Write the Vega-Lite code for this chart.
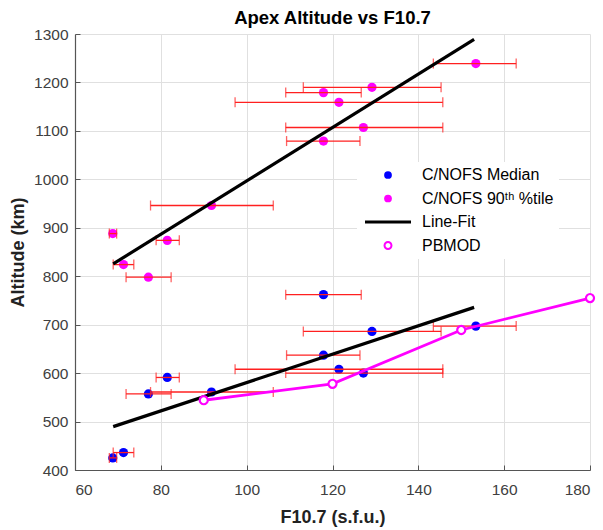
{
  "$schema": "https://vega.github.io/schema/vega-lite/v6.json",
  "autosize": {"type": "none"},
  "padding": {"left": 75, "top": 34, "right": 13, "bottom": 60},
  "width": 515,
  "height": 436,
  "background": "white",
  "title": {"text": "Apex Altitude vs F10.7", "fontSize": 18.5, "fontWeight": "bold", "font": "Liberation Sans", "color": "#000000", "offset": 0, "anchor": "middle"},
  "config": {
    "view": {"stroke": null},
    "font": "Liberation Sans",
    "axis": {
      "grid": true, "gridColor": "#e0e0e0", "gridWidth": 1,
      "domainColor": "#555555", "domainWidth": 1.2,
      "tickColor": "#555555", "tickSize": -5,
      "labelFont": "Liberation Sans", "labelFontSize": 15.5, "labelColor": "#404040",
      "titleFont": "Liberation Sans", "titleFontSize": 18, "titleFontWeight": "bold", "titleColor": "#222222"
    }
  },
  "datasets": {
    "obs": [
      {"f": 68.8, "lo": 68.0, "hi": 69.7, "med": 425, "p90": 888},
      {"f": 71.3, "lo": 68.9, "hi": 73.7, "med": 436, "p90": 824},
      {"f": 77.1, "lo": 71.9, "hi": 82.4, "med": 557, "p90": 798},
      {"f": 81.5, "lo": 78.9, "hi": 84.3, "med": 591, "p90": 874},
      {"f": 91.8, "lo": 77.6, "hi": 106.2, "med": 561, "p90": 946},
      {"f": 117.9, "lo": 109.1, "hi": 126.7, "med": 762, "p90": 1179},
      {"f": 117.9, "lo": 109.3, "hi": 126.4, "med": 637, "p90": 1079},
      {"f": 121.5, "lo": 97.3, "hi": 145.7, "med": 608, "p90": 1159},
      {"f": 127.2, "lo": 109.1, "hi": 145.7, "med": 600, "p90": 1107},
      {"f": 129.2, "lo": 113.2, "hi": 145.3, "med": 686, "p90": 1190},
      {"f": 153.4, "lo": 143.5, "hi": 162.8, "med": 697, "p90": 1239}
    ],
    "fit": [
      {"grp": "p90", "f": 68.9, "alt": 825.5},
      {"grp": "p90", "f": 153.0, "alt": 1289},
      {"grp": "med", "f": 68.9, "alt": 489.5},
      {"grp": "med", "f": 153.0, "alt": 735.7}
    ],
    "pbmod": [
      {"f": 90, "alt": 544},
      {"f": 120, "alt": 578},
      {"f": 150, "alt": 689},
      {"f": 180, "alt": 755}
    ]
  },
  "encoding": {
    "x": {"type": "quantitative", "scale": {"domain": [60, 180], "nice": false, "zero": false},
      "axis": {"title": "F10.7 (s.f.u.)", "values": [60, 80, 100, 120, 140, 160, 180], "labelPadding": 17, "titlePadding": 11}},
    "y": {"type": "quantitative", "scale": {"domain": [400, 1300], "nice": false, "zero": false},
      "axis": {"title": "Altitude (km)", "format": "d", "values": [400, 500, 600, 700, 800, 900, 1000, 1100, 1200, 1300], "labelPadding": 12, "titlePadding": 6}},
    "color": {"type": "nominal",
      "scale": {"domain": ["C/NOFS Median", "C/NOFS 90ᵗʰ %tile", "Line-Fit", "PBMOD"], "range": ["#0000ff", "#ff00ff", "#000000", "#ff00ff"]},
      "legend": {
        "title": null, "orient": "none", "legendX": 282, "legendY": 128,
        "fillColor": "white", "strokeColor": null, "padding": 5,
        "labelFont": "Liberation Sans", "labelFontSize": 16, "labelColor": "#000000",
        "symbolSize": 100, "symbolOffset": 18, "labelOffset": 26, "rowPadding": 7.5,
        "encode": {
          "symbols": {"update": {
            "shape": {"signal": "datum.value === 'Line-Fit' ? 'stroke' : 'circle'"},
            "size": {"signal": "datum.value === 'Line-Fit' ? 2116 : (datum.value === 'PBMOD' ? 48 : 60)"},
            "fill": {"signal": "datum.value === 'PBMOD' ? 'white' : scale('color', datum.value)"},
            "fillOpacity": {"signal": "datum.value === 'PBMOD' ? 0 : 1"},
            "stroke": {"signal": "scale('color', datum.value)"},
            "strokeWidth": {"signal": "datum.value === 'Line-Fit' ? 3 : (datum.value === 'PBMOD' ? 2 : 0)"},
            "opacity": {"value": 1}
          }}
        }
      }
    }
  },
  "layer": [
    {
      "data": {"name": "obs"},
      "mark": {"type": "circle", "size": 85, "opacity": 1},
      "encoding": {
        "x": {"field": "f", "type": "quantitative"},
        "y": {"field": "med", "type": "quantitative"},
        "color": {"datum": "C/NOFS Median", "type": "nominal"}
      }
    },
    {
      "data": {"name": "obs"},
      "mark": {"type": "circle", "size": 85, "opacity": 1},
      "encoding": {
        "x": {"field": "f", "type": "quantitative"},
        "y": {"field": "p90", "type": "quantitative"},
        "color": {"datum": "C/NOFS 90ᵗʰ %tile", "type": "nominal"}
      }
    },
    {
      "data": {"name": "obs"},
      "transform": [{"fold": ["med", "p90"], "as": ["stat", "alt"]}],
      "layer": [
        {"mark": {"type": "rule", "color": "#ff2020", "strokeWidth": 1.3},
          "encoding": {"x": {"field": "lo", "type": "quantitative"}, "x2": {"field": "hi"}, "y": {"field": "alt", "type": "quantitative"}, "color": {"value": "#ff2020"}}},
        {"mark": {"type": "tick", "orient": "vertical", "color": "#ff2020", "size": 10, "thickness": 1.3},
          "encoding": {"x": {"field": "lo", "type": "quantitative"}, "y": {"field": "alt", "type": "quantitative"}, "color": {"value": "#ff2020"}}},
        {"mark": {"type": "tick", "orient": "vertical", "color": "#ff2020", "size": 10, "thickness": 1.3},
          "encoding": {"x": {"field": "hi", "type": "quantitative"}, "y": {"field": "alt", "type": "quantitative"}, "color": {"value": "#ff2020"}}}
      ]
    },
    {
      "data": {"name": "fit"},
      "mark": {"type": "line", "strokeWidth": 3.2},
      "encoding": {
        "x": {"field": "f", "type": "quantitative"},
        "y": {"field": "alt", "type": "quantitative"},
        "detail": {"field": "grp"},
        "color": {"datum": "Line-Fit", "type": "nominal"}
      }
    },
    {
      "data": {"name": "pbmod"},
      "mark": {"type": "line", "strokeWidth": 2.8},
      "encoding": {
        "x": {"field": "f", "type": "quantitative"},
        "y": {"field": "alt", "type": "quantitative"},
        "color": {"datum": "PBMOD", "type": "nominal"}
      }
    },
    {
      "data": {"name": "pbmod"},
      "mark": {"type": "point", "filled": false, "size": 65, "strokeWidth": 2.2, "opacity": 1, "fill": "white"},
      "encoding": {
        "x": {"field": "f", "type": "quantitative"},
        "y": {"field": "alt", "type": "quantitative"},
        "color": {"datum": "PBMOD", "type": "nominal"}
      }
    }
  ]
}
